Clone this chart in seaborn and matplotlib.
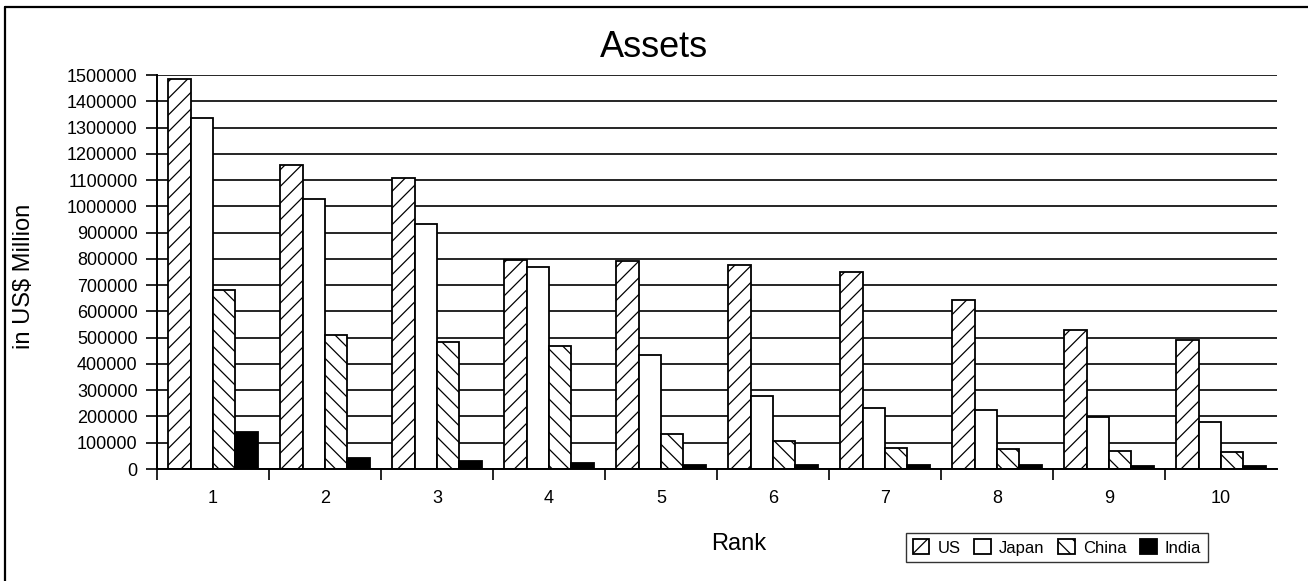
import matplotlib
matplotlib.use("Agg")
import matplotlib.pyplot as plt
import pandas as pd
import seaborn as sns
from matplotlib.lines import Line2D
from matplotlib.ticker import FixedLocator, FuncFormatter

# Data (US$ million)
ranks = [str(i) for i in range(1, 11)]
countries = ["US", "Japan", "China", "India"]
us = [1484000, 1156000, 1108000, 796000, 792000, 775000, 750000, 645000, 530000, 493000]
japan = [1336000, 1029000, 931000, 769000, 435000, 278000, 233000, 226000, 198000, 178000]
china = [683000, 512000, 482000, 469000, 133000, 108000, 81000, 76000, 67000, 63000]
india = [142000, 40000, 29000, 21000, 16500, 16500, 16000, 15000, 11000, 11000]

y_ticks = list(range(0, 1500001, 100000))

# Long format table for seaborn
rows = []
for country, vals in zip(countries, [us, japan, china, india]):
    for r, v in zip(ranks, vals):
        rows.append({"rank": r, "assets": v, "country": country})
df = pd.DataFrame(rows)

sns.set_theme(style="white")
plt.rcParams["font.family"] = ["Liberation Sans", "DejaVu Sans"]
plt.rcParams["text.color"] = "black"
plt.rcParams["axes.labelcolor"] = "black"
plt.rcParams["hatch.linewidth"] = 0.9
plt.rcParams["hatch.color"] = "black"

W, H = 1308, 581
fig = plt.figure(figsize=(W / 100, H / 100), dpi=100)
ax = fig.add_axes([157 / W, 1 - 469 / H, 1120 / W, 394 / H])

palette = {"US": "white", "Japan": "white", "China": "white", "India": "black"}
sns.barplot(data=df, x="rank", y="assets", hue="country", order=ranks,
            hue_order=countries, palette=palette, saturation=1,
            edgecolor="black", linewidth=1.3, errorbar=None, width=0.8, ax=ax)

# Hatching per series
hatches = {"US": "//", "Japan": "", "China": "\\\\", "India": ""}
for cont, country in zip(ax.containers, countries):
    for p in cont:
        p.set_hatch(hatches[country])

ax.get_legend().remove()

# Axes styling
ax.set_xlim(-0.5, 9.5)
ax.set_ylim(0, 1500000)
ax.set_yticks(y_ticks)
ax.yaxis.set_major_formatter(FuncFormatter(lambda v, _: f"{int(v)}"))
ax.yaxis.grid(True, color="black", linewidth=1.2)
ax.set_axisbelow(True)
for side in ["top", "right"]:
    ax.spines[side].set_visible(False)
for side in ["left", "bottom"]:
    ax.spines[side].set_color("black")
    ax.spines[side].set_linewidth(1.4)

ax.tick_params(axis="y", which="major", direction="out", length=8, width=1.2,
               pad=6, labelsize=13, colors="black", left=True)
ax.tick_params(axis="x", which="major", length=0, pad=15, labelsize=13,
               colors="black")
ax.xaxis.set_minor_locator(FixedLocator([i - 0.5 for i in range(10)]))
ax.tick_params(axis="x", which="minor", direction="out", length=8, width=1.2,
               bottom=True, color="black")
ax.set_xlabel("")
ax.set_ylabel("")

# Titles and axis labels placed like the original
fig.text(0.5, 1 - 57 / H, "Assets", ha="center", va="baseline", fontsize=26,
         color="black")
fig.text(739 / W, 1 - 550 / H, "Rank", ha="center", va="baseline", fontsize=17,
         color="black")
fig.text(24 / W, 1 - 276 / H, "in US$ Million", ha="center", va="center",
         rotation=90, fontsize=17, color="black")

# Legend
leg = fig.legend(ax.containers, countries, loc="center", ncol=4,
                 bbox_to_anchor=(1057 / W, 1 - 547.5 / H), fontsize=12,
                 handlelength=1.0, handleheight=1.0, handletextpad=0.5,
                 columnspacing=0.8, borderpad=0.4, frameon=True, fancybox=False)
leg.get_frame().set_edgecolor("black")
leg.get_frame().set_linewidth(1.0)
for t in leg.get_texts():
    t.set_color("black")

# Figure border (top and left visible in the original)
fig.add_artist(Line2D([5 / W, 5 / W], [0, 1 - 7 / H], color="black", linewidth=1.6))
fig.add_artist(Line2D([5 / W, 1], [1 - 7 / H, 1 - 7 / H], color="black", linewidth=1.6))

fig.savefig("out.png", dpi=100)
